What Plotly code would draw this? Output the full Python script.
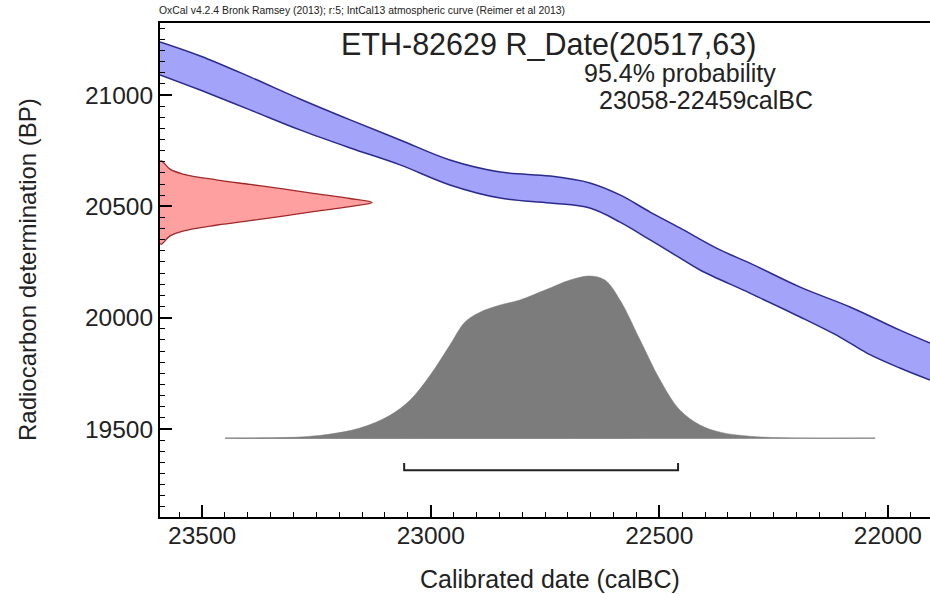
import plotly.graph_objects as go

# ---------------- data ----------------
# calibration curve band (IntCal13, +/- 1 sigma), calBC vs BP
curve_x = [23592, 23504, 23395, 23286, 23176, 23067, 22958, 22848, 22739,
           22652, 22586, 22520, 22455, 22367, 22302, 22192, 22083, 21974, 21908]
curve_upper = [21238, 21175, 21081, 20982, 20888, 20798, 20708, 20654, 20636,
               20605, 20551, 20474, 20403, 20304, 20245, 20137, 20048, 19944, 19886]
curve_lower_x = [23592, 23504, 23395, 23286, 23176, 23067, 22958, 22848, 22739,
                 22652, 22586, 22520, 22455, 22411, 22302, 22192, 22105, 22046, 21974, 21908]
curve_lower = [21090, 21022, 20933, 20843, 20762, 20686, 20596, 20537, 20515,
               20492, 20429, 20349, 20268, 20214, 20110, 20003, 19913, 19841, 19774, 19720]

# radiocarbon date R_Date(20517,63): BP values and relative density
rdate_bp = [20703, 20667, 20645, 20618, 20598, 20578, 20557, 20535, 20517,
            20499, 20477, 20456, 20436, 20416, 20389, 20367, 20331]
rdate_density = [0.009, 0.047, 0.108, 0.27, 0.425, 0.58, 0.73, 0.895, 1.0,
                 0.895, 0.73, 0.58, 0.425, 0.27, 0.108, 0.047, 0.009]

# calibrated distribution: calBC and relative probability
cal_x = [23450, 23286, 23220, 23155, 23089, 23045, 23001, 22958, 22925, 22892,
         22848, 22805, 22750, 22695, 22652, 22619, 22586, 22542, 22498, 22455,
         22411, 22367, 22302, 22192, 22028]
cal_prob = [0.0, 0.007, 0.025, 0.062, 0.141, 0.235, 0.389, 0.574, 0.716, 0.777,
            0.821, 0.852, 0.913, 0.975, 1.0, 0.975, 0.852, 0.605, 0.357, 0.173,
            0.081, 0.037, 0.012, 0.0, 0.0]

# 95.4% range
range_from, range_to = 23058, 22459

x_ticks = [23500, 23000, 22500, 22000]
y_ticks = [19500, 20000, 20500, 21000]

# ---------------- scales ----------------
x_left, x_right = 23592, 21908
y_bottom, y_top = 19105, 21323
rdate_scale = 464      # years of horizontal extent at peak
cal_base, cal_scale = 19459, 728
bracket_y, bracket_tip = 19315, 19347

FONT = "Liberation Sans, Arial, sans-serif"

fig = go.Figure()

# calibration band
fig.add_trace(go.Scatter(x=curve_x, y=curve_upper, mode="lines",
                         line=dict(color="#2b2b8c", width=1.5, shape="spline"),
                         hoverinfo="skip", showlegend=False))
fig.add_trace(go.Scatter(x=curve_lower_x, y=curve_lower, mode="lines",
                         line=dict(color="#2b2b8c", width=1.5, shape="spline"),
                         fill="tonexty", fillcolor="rgba(163,163,250,1)",
                         hoverinfo="skip", showlegend=False))

# radiocarbon date (red)
rx = [x_left] + [x_left - d * rdate_scale for d in rdate_density] + [x_left]
ry = [rdate_bp[0]] + rdate_bp + [rdate_bp[-1]]
fig.add_trace(go.Scatter(x=rx, y=ry, mode="lines", fill="toself",
                         fillcolor="rgba(255,160,160,1)",
                         line=dict(color="#a02828", width=1.3, shape="spline"),
                         hoverinfo="skip", showlegend=False))

# baseline of calibrated distribution
fig.add_trace(go.Scatter(x=[cal_x[0], cal_x[-1]], y=[cal_base, cal_base], mode="lines",
                         line=dict(color="#9a9a9a", width=1),
                         hoverinfo="skip", showlegend=False))
# calibrated distribution (gray)
gx = cal_x + [cal_x[0]]
gy = [cal_base + p * cal_scale for p in cal_prob] + [cal_base]
fig.add_trace(go.Scatter(x=gx, y=gy, mode="lines", fill="toself",
                         fillcolor="#7c7c7c",
                         line=dict(color="#7c7c7c", width=0.5, shape="spline"),
                         hoverinfo="skip", showlegend=False))

# 95.4% range bracket
fig.add_trace(go.Scatter(x=[range_from, range_from, range_to, range_to],
                         y=[bracket_tip, bracket_y, bracket_y, bracket_tip],
                         mode="lines", line=dict(color="#222222", width=2),
                         hoverinfo="skip", showlegend=False))

fig.update_xaxes(range=[x_left, x_right], tickvals=x_ticks,
                 ticktext=[str(v) for v in x_ticks], automargin=False,
                 ticks="inside", ticklen=12, tickwidth=1.5, tickcolor="black",
                 showline=True, linecolor="black", linewidth=2, mirror=True,
                 showgrid=False, zeroline=False, ticklabelstandoff=-4,
                 tickfont=dict(family=FONT, size=24.5, color="#222222"),
                 minor=dict(tick0=0, dtick=50, ticks="inside", ticklen=5,
                            tickcolor="black", tickwidth=1, showgrid=False))
fig.update_yaxes(range=[y_bottom, y_top], tickvals=y_ticks,
                 ticktext=[str(v) for v in y_ticks], automargin=False,
                 ticks="inside", ticklen=12, tickwidth=1.5, tickcolor="black",
                 showline=True, linecolor="black", linewidth=2,
                 showgrid=False, zeroline=False,
                 tickfont=dict(family=FONT, size=24.5, color="#222222"),
                 minor=dict(tick0=0, dtick=50, ticks="inside", ticklen=5,
                            tickcolor="black", tickwidth=1, showgrid=False))

ann = [
    dict(text="OxCal v4.2.4 Bronk Ramsey (2013); r:5; IntCal13 atmospheric curve (Reimer et al 2013)",
         x=-0.004, y=1.0263, xanchor="left", yanchor="middle", font=dict(size=10.4)),
    dict(text="ETH-82629 R_Date(20517,63)", x=0.504, y=0.9555,
         xanchor="center", yanchor="middle", font=dict(size=30.5)),
    dict(text="95.4% probability", x=0.548, y=0.899,
         xanchor="left", yanchor="middle", font=dict(size=25)),
    dict(text="23058-22459calBC", x=0.5675, y=0.844,
         xanchor="left", yanchor="middle", font=dict(size=25)),
    dict(text="Calibrated date (calBC)", x=0.506, y=-0.1255,
         xanchor="center", yanchor="middle", font=dict(size=25)),
    dict(text="Radiocarbon determination (BP)", x=-0.1727, y=0.5, textangle=-90,
         xanchor="center", yanchor="middle", font=dict(size=24)),
]
for a in ann:
    a.update(xref="paper", yref="paper", showarrow=False)
    a["font"].update(family=FONT, color="#222222")
fig.update_layout(annotations=ann)

fig.update_layout(width=930, height=594, autosize=False,
                  margin=dict(l=160, r=0, t=23, b=77),
                  paper_bgcolor="white", plot_bgcolor="white")

fig.write_html("out.html", config={"displayModeBar": False},
               post_script="document.body.style.margin='0px';"
                           "document.body.style.overflow='hidden';")
